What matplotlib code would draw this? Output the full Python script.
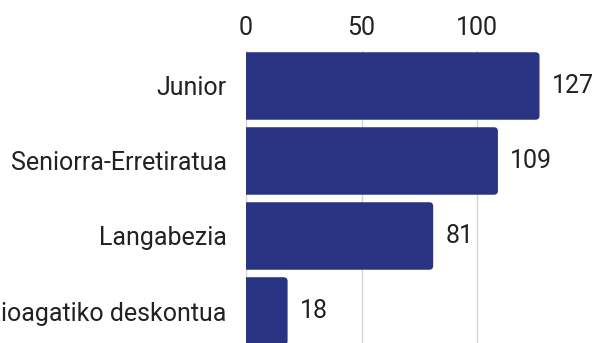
import matplotlib
matplotlib.use("Agg")
import matplotlib.pyplot as plt
from matplotlib.patches import FancyBboxPatch

categories = ["Junior", "Seniorra-Erretiratua", "Langabezia",
              "Aniztasun funtzioagatiko deskontua"]
values = [127, 109, 81, 18]
xticks = [0, 50, 100]

BAR_COLOR = "#283382"
TEXT_COLOR = "#222222"

plt.rcParams["font.family"] = ["Roboto", "DejaVu Sans"]

fig = plt.figure(figsize=(5.99, 3.43), dpi=100)
ax = fig.add_axes([246 / 599, -0.0160, (558 - 246) / 599, 0.8681])

pos = list(range(len(categories)))
bars = ax.barh(pos, values, height=0.9, color=BAR_COLOR, zorder=3)

ax.set_xlim(0, 135)
ax.set_ylim(3.5, -0.47)

# rounded right-hand corners (start a bit left of zero so the left side stays square)
px_per_x = (558 - 246) / 135
px_per_y = 0.8681 * 343 / 3.97
r_px = 4.0
rx = r_px / px_per_x
aspect = (r_px / px_per_y) / rx
for b in bars:
    x0, y0, w, h = b.get_x(), b.get_y(), b.get_width(), b.get_height()
    b.set_visible(False)
    patch = FancyBboxPatch((x0 - 3 * rx, y0), w + 3 * rx, h,
                           boxstyle=f"round,pad=0,rounding_size={rx}",
                           mutation_aspect=aspect,
                           facecolor=BAR_COLOR, edgecolor="none", zorder=3)
    ax.add_patch(patch)

for p, v in zip(pos, values):
    ax.annotate(f"{v}", xy=(v, p), xytext=(12, 0), textcoords="offset pixels",
                va="center", ha="left", fontsize=18, color=TEXT_COLOR,
                annotation_clip=False)

ax.set_yticks(pos)
ax.set_yticklabels(categories, fontsize=18, color=TEXT_COLOR)
ax.set_xticks(xticks)
ax.set_xticklabels([str(t) for t in xticks], fontsize=18, color=TEXT_COLOR)
ax.xaxis.tick_top()
ax.tick_params(axis="x", length=0, pad=8)
ax.tick_params(axis="y", length=0, pad=14)

ax.grid(axis="x", color="#d4d4d4", linewidth=1.0, zorder=0)
ax.set_axisbelow(True)
for s in ax.spines.values():
    s.set_visible(False)

fig.savefig("out.png", dpi=100)
